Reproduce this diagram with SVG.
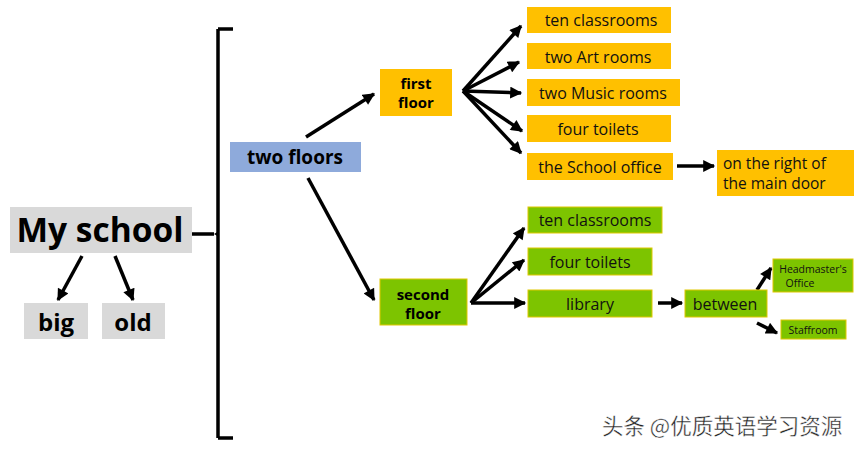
<svg xmlns="http://www.w3.org/2000/svg" width="861" height="451" viewBox="0 0 861 451">
<defs>
<marker id="ah" viewBox="0 0 10 10" refX="9" refY="5" markerWidth="13" markerHeight="12" markerUnits="userSpaceOnUse" orient="auto">
<path d="M0,0 L10,5 L0,10 z" fill="#000"/>
</marker>
<style>
.t{font-family:"Open Sans","Noto Sans","Liberation Sans",sans-serif;fill:#111;text-anchor:middle}
.b{font-weight:bold;fill:#000}
.gray{fill:#d9d9d9}
.yel{fill:#ffc000}
.grn{fill:#7dc400;stroke:#e0c800;stroke-width:1}
.blu{fill:#8eaadb}
.c{stroke:#000;stroke-width:3.5;fill:none;marker-end:url(#ah)}
</style>
</defs>
<rect width="861" height="451" fill="#fff"/>
<g id="connectors">
<path d="M187,234 L214,234 M218,29 L218,438 M218,29 L233,29 M218,438 L233,438" stroke="#000" stroke-width="3.5" fill="none"/>
<path d="M214,234 L219,231 L219,237 z" fill="#000"/>
<line class="c" x1="82" y1="256" x2="58" y2="300"/>
<line class="c" x1="115" y1="256" x2="133" y2="300"/>
<line class="c" x1="306" y1="137" x2="374" y2="94"/>
<line class="c" x1="308" y1="178" x2="374" y2="300"/>
<line class="c" x1="463" y1="91" x2="521" y2="26"/>
<line class="c" x1="463" y1="91" x2="519" y2="62"/>
<line class="c" x1="463" y1="91" x2="521" y2="93"/>
<line class="c" x1="463" y1="91" x2="522" y2="131"/>
<line class="c" x1="463" y1="91" x2="521" y2="153"/>
<line class="c" x1="677" y1="166" x2="714" y2="166"/>
<line class="c" x1="471" y1="303" x2="524" y2="228"/>
<line class="c" x1="471" y1="303" x2="524" y2="260"/>
<line class="c" x1="471" y1="303" x2="525" y2="303"/>
<line class="c" x1="658" y1="303" x2="682" y2="303"/>
<line class="c" x1="757" y1="290" x2="771" y2="268"/>
<line class="c" x1="757" y1="323" x2="777" y2="333"/>
</g>
<g id="my-school"><rect class="gray" x="10" y="207" width="182" height="46"/><text class="t b" x="100" y="242" font-size="33.5">My school</text></g>
<g id="big"><rect class="gray" x="24" y="303" width="64" height="36"/><text class="t b" x="56" y="331" font-size="24">big</text></g>
<g id="old"><rect class="gray" x="102" y="303" width="63" height="36"/><text class="t b" x="133" y="331" font-size="24">old</text></g>
<g id="two-floors"><rect class="blu" x="230" y="142" width="131" height="30"/><text class="t b" x="295" y="164" font-size="19">two floors</text></g>
<g id="first-floor"><rect class="yel" x="380" y="69" width="72" height="47"/><text class="t b" x="416" y="89" font-size="15">first</text><text class="t b" x="416" y="108" font-size="15">floor</text></g>
<g id="second-floor"><rect class="grn" x="380" y="279" width="87" height="46"/><text class="t b" x="423" y="300" font-size="15">second</text><text class="t b" x="423" y="319" font-size="15">floor</text></g>
<g id="y-ten"><rect class="yel" x="527" y="7" width="144" height="26"/><text class="t" x="601" y="26" font-size="16">ten classrooms</text></g>
<g id="y-art"><rect class="yel" x="527" y="43" width="144" height="26"/><text class="t" x="598" y="63" font-size="16">two Art rooms</text></g>
<g id="y-music"><rect class="yel" x="527" y="79" width="153" height="27"/><text class="t" x="603" y="99" font-size="16">two Music rooms</text></g>
<g id="y-toilets"><rect class="yel" x="527" y="115" width="144" height="27"/><text class="t" x="598" y="135" font-size="16">four toilets</text></g>
<g id="y-office"><rect class="yel" x="527" y="153" width="146" height="27"/><text class="t" x="600" y="173" font-size="16">the School office</text></g>
<g id="y-right"><rect class="yel" x="717" y="150" width="137" height="46"/><text class="t" x="723" y="169" font-size="15.5" style="text-anchor:start">on the right of</text><text class="t" x="723" y="189" font-size="15.5" style="text-anchor:start">the main door</text></g>
<g id="g-ten"><rect class="grn" x="528" y="207" width="134" height="26"/><text class="t" x="595" y="226" font-size="16">ten classrooms</text></g>
<g id="g-toilets"><rect class="grn" x="528" y="248" width="124" height="27"/><text class="t" x="590" y="268" font-size="16">four toilets</text></g>
<g id="g-library"><rect class="grn" x="528" y="290" width="124" height="27"/><text class="t" x="590" y="310" font-size="16">library</text></g>
<g id="g-between"><rect class="grn" x="685" y="290" width="82" height="27"/><text class="t" x="725" y="310" font-size="16">between</text></g>
<g id="g-headmaster"><rect class="grn" x="773" y="259" width="80" height="33"/><text class="t" x="813" y="273" font-size="10.5">Headmaster's</text><text class="t" x="800" y="287" font-size="10.5">Office</text></g>
<g id="g-staffroom"><rect class="grn" x="781" y="320" width="65" height="19"/><text class="t" x="813" y="334" font-size="10.5">Staffroom</text></g>
<text x="602" y="434" font-size="21.5" fill="#222" stroke="#fff" stroke-width="0.4" font-family="'Noto Sans CJK SC',sans-serif">头条 @优质英语学习资源</text>
</svg>
